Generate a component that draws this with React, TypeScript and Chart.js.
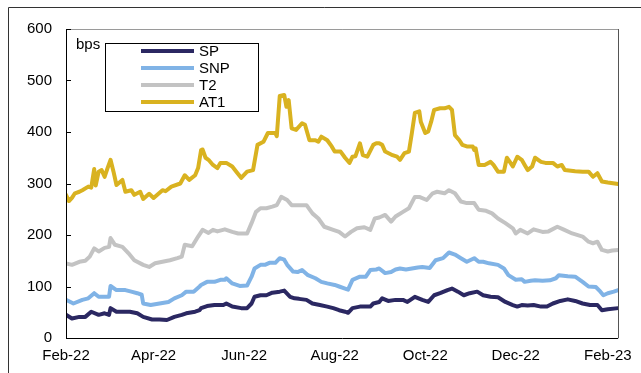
import React, { useEffect, useRef } from "react";
import { Chart, registerables } from "chart.js";

Chart.register(...registerables);

// x values are days since 1 Feb 2022
const tickDays = [0, 59, 120, 181, 242, 303, 365];
const tickLabels = ["Feb-22", "Apr-22", "Jun-22", "Aug-22", "Oct-22", "Dec-22", "Feb-23"];
const yTicks = [0, 100, 200, 300, 400, 500, 600];

const seriesNames = ["SP", "SNP", "T2", "AT1"];
const seriesColors = ["#2b2862", "#80b3e6", "#c3c3c3", "#d9b220"];

const spDays = [0,4,9,13,17,22,26,29,30,34,39,43,48,52,58,63,68,73,78,81,87,90,91,95,100,106,108,112,118,122,125,127,131,135,139,144,147,151,154,157,162,166,171,176,180,184,188,190,193,198,205,207,211,213,217,222,227,230,235,240,244,248,252,257,260,264,268,272,277,281,286,291,296,301,304,307,311,315,320,324,328,333,338,343,348,353,358,361,365,372];
const spVals = [45,38,41,41,51,45,48,45,58,51,51,51,48,41,36,36,35,41,45,48,51,54,58,62,64,64,67,61,58,58,67,80,83,83,88,90,92,80,77,76,74,67,64,61,58,54,51,49,58,61,61,67,70,77,72,74,74,70,80,74,70,83,87,93,96,90,83,87,90,83,80,79,70,64,61,64,63,64,61,61,67,72,75,72,67,64,64,54,56,58];

const snpDays = [0,5,11,15,19,22,26,29,30,34,40,44,48,51,52,57,63,69,73,78,81,86,90,91,95,100,104,107,108,112,117,122,125,127,131,134,137,141,144,147,149,153,156,159,163,168,172,176,181,184,188,190,193,198,202,205,209,211,215,219,222,225,229,233,237,240,245,249,254,258,262,266,270,275,278,281,285,291,295,298,303,307,309,313,316,321,326,330,332,338,343,348,352,357,360,362,365,369,372];
const snpVals = [74,67,74,77,87,80,80,80,101,93,93,90,87,84,67,64,67,70,77,83,90,90,100,103,109,109,113,113,116,106,101,102,119,135,142,142,146,146,155,152,142,129,128,132,122,116,109,106,103,100,96,94,113,119,119,132,133,135,126,128,133,135,133,135,137,138,136,151,155,166,162,155,148,155,148,148,145,142,135,122,113,114,109,111,112,111,112,116,122,120,119,109,100,99,90,83,87,90,93];

const t2Days = [0,4,9,13,16,19,22,26,29,30,33,38,42,46,52,56,60,65,70,75,78,80,85,89,92,96,99,102,107,112,116,122,125,128,131,135,139,142,145,149,152,157,162,166,170,174,180,184,188,192,196,201,205,208,211,215,219,222,227,231,235,238,243,247,250,255,258,262,266,270,275,278,283,287,291,296,301,303,306,311,315,321,325,331,335,341,348,352,355,358,361,365,368,372];
const t2Vals = [145,142,148,150,158,174,168,175,177,194,181,177,165,151,142,138,145,148,151,155,158,181,178,197,210,204,210,207,211,206,203,203,223,245,252,252,255,258,274,268,258,258,258,242,232,216,210,206,197,206,213,215,210,232,234,239,226,236,245,252,274,274,268,281,284,281,287,281,265,262,262,249,247,242,232,223,213,203,210,203,211,206,207,216,211,203,197,187,184,187,171,168,170,171];

const at1Days = [0,2,4,6,9,11,15,17,19,20,22,24,26,28,30,32,34,38,40,44,46,50,52,56,59,65,67,71,77,80,83,87,89,91,92,94,96,99,102,104,108,112,115,118,122,126,129,133,136,141,142,144,147,148.5,150,152,155,159,161,164,168,170,172,176,179,181,185,188,191,193,195,198,200,203,207,209,211,213,215,220,223,225,228,231,233,235,238,239,242,244,246,248,252,255,258,260,262,265,267,270,274,275,276,278,282,286,288,291,295,297,299,301,304,307,309,311,314,316,320,323,328,331,334,336,343,348,352,355,358,361,365,372];
const at1Vals = [278,266,272,281,284,287,294,292,328,296,323,326,313,330,346,323,297,307,284,287,278,284,270,280,272,287,285,294,300,316,307,316,330,365,366,350,346,336,330,340,340,333,322,311,323,326,375,381,398,398,392,470,472,449,462,407,404,417,414,384,384,381,391,384,372,362,362,350,340,352,353,378,355,352,375,378,378,375,362,355,352,346,359,362,398,437,440,420,398,401,420,443,446,446,449,443,394,384,375,372,372,365,368,336,336,342,336,323,323,350,342,333,352,346,336,326,333,350,342,340,340,333,336,326,324,323,323,313,320,304,302,299];

const seriesDays = [spDays, snpDays, t2Days, at1Days];
const seriesVals = [spVals, snpVals, t2Vals, at1Vals];

const FONT = "'Liberation Sans', Arial, sans-serif";

const decorPlugin = {
  id: "decor",
  afterDraw(chart: any) {
    const { ctx, chartArea } = chart;
    const { left, top, right, bottom } = chartArea;
    const yScale = chart.scales.y;
    ctx.save();
    // outer frame
    ctx.strokeStyle = "#333333";
    ctx.lineWidth = 1;
    ctx.beginPath();
    ctx.moveTo(8.5, 373);
    ctx.lineTo(8.5, 7.5);
    ctx.lineTo(641, 7.5);
    ctx.stroke();
    // plot top border
    ctx.strokeStyle = "#9a9a9a";
    ctx.beginPath();
    ctx.moveTo(left, Math.round(top) + 0.5);
    ctx.lineTo(right, Math.round(top) + 0.5);
    ctx.stroke();
    // right border
    ctx.strokeStyle = "#555555";
    ctx.beginPath();
    ctx.moveTo(Math.round(right) + 0.5, top);
    ctx.lineTo(Math.round(right) + 0.5, bottom);
    ctx.stroke();
    // left & bottom axes
    ctx.strokeStyle = "#000000";
    ctx.beginPath();
    ctx.moveTo(Math.round(left) + 0.5, top);
    ctx.lineTo(Math.round(left) + 0.5, Math.round(bottom) + 0.5);
    ctx.lineTo(right, Math.round(bottom) + 0.5);
    ctx.stroke();
    // inner y ticks
    ctx.beginPath();
    yTicks.forEach((v) => {
      const y = Math.round(yScale.getPixelForValue(v)) + 0.5;
      ctx.moveTo(left, y);
      ctx.lineTo(left + 5, y);
    });
    ctx.stroke();
    // "bps" label
    ctx.fillStyle = "#000000";
    ctx.font = `15px ${FONT}`;
    ctx.textBaseline = "middle";
    ctx.textAlign = "left";
    ctx.fillText("bps", 76, 45);
    // legend box
    const bx = 105, by = 43, bw = 153, bh = 68;
    ctx.fillStyle = "#ffffff";
    ctx.fillRect(bx, by, bw, bh);
    ctx.strokeStyle = "#000000";
    ctx.strokeRect(bx + 0.5, by + 0.5, bw, bh);
    seriesNames.forEach((name, i) => {
      const y = 51 + i * 17;
      ctx.strokeStyle = seriesColors[i];
      ctx.lineWidth = 4;
      ctx.beginPath();
      ctx.moveTo(141, y);
      ctx.lineTo(194, y);
      ctx.stroke();
      ctx.fillStyle = "#000000";
      ctx.fillText(name, 199, y + 1);
    });
    ctx.restore();
  },
};

export default function App() {
  const ref = useRef<HTMLCanvasElement | null>(null);
  useEffect(() => {
    if (!ref.current) return;
    const datasets = seriesNames.map((name, i) => ({
      label: name,
      data: seriesDays[i].map((d, j) => ({ x: d, y: seriesVals[i][j] })),
      borderColor: seriesColors[i],
      backgroundColor: seriesColors[i],
      borderWidth: 4,
      pointRadius: 0,
      tension: 0,
      borderJoinStyle: "round" as const,
      borderCapStyle: "round" as const,
    }));
    const chart = new Chart(ref.current, {
      type: "line",
      data: { datasets },
      plugins: [decorPlugin],
      options: {
        responsive: false,
        animation: false,
        layout: { padding: { left: 0, top: 29, right: 22, bottom: 0 } },
        plugins: { legend: { display: false }, tooltip: { enabled: false } },
        scales: {
          x: {
            type: "linear",
            min: 0,
            max: 372,
            afterFit: (s: any) => { s.height = 35; },
            afterBuildTicks: (s: any) => { s.ticks = tickDays.map((v) => ({ value: v })); },
            grid: { display: false, drawTicks: false },
            border: { display: false },
            ticks: {
              autoSkip: false,
              maxRotation: 0,
              padding: 9,
              color: "#000000",
              font: { family: FONT, size: 15 },
              callback: (v: any) => {
                const idx = tickDays.indexOf(Number(v));
                return idx >= 0 ? tickLabels[idx] : "";
              },
            },
          },
          y: {
            min: 0,
            max: 600,
            afterFit: (s: any) => { s.width = 66; },
            afterBuildTicks: (s: any) => { s.ticks = yTicks.map((v) => ({ value: v })); },
            grid: { display: false, drawTicks: false },
            border: { display: false },
            ticks: {
              padding: 14,
              color: "#000000",
              font: { family: FONT, size: 15 },
            },
          },
        },
      },
    });
    return () => chart.destroy();
  }, []);
  return (
    <div style={{ position: "fixed", left: 0, top: 0, width: 641, height: 373, background: "#ffffff" }}>
      <canvas ref={ref} width={641} height={373} style={{ display: "block" }} />
    </div>
  );
}
